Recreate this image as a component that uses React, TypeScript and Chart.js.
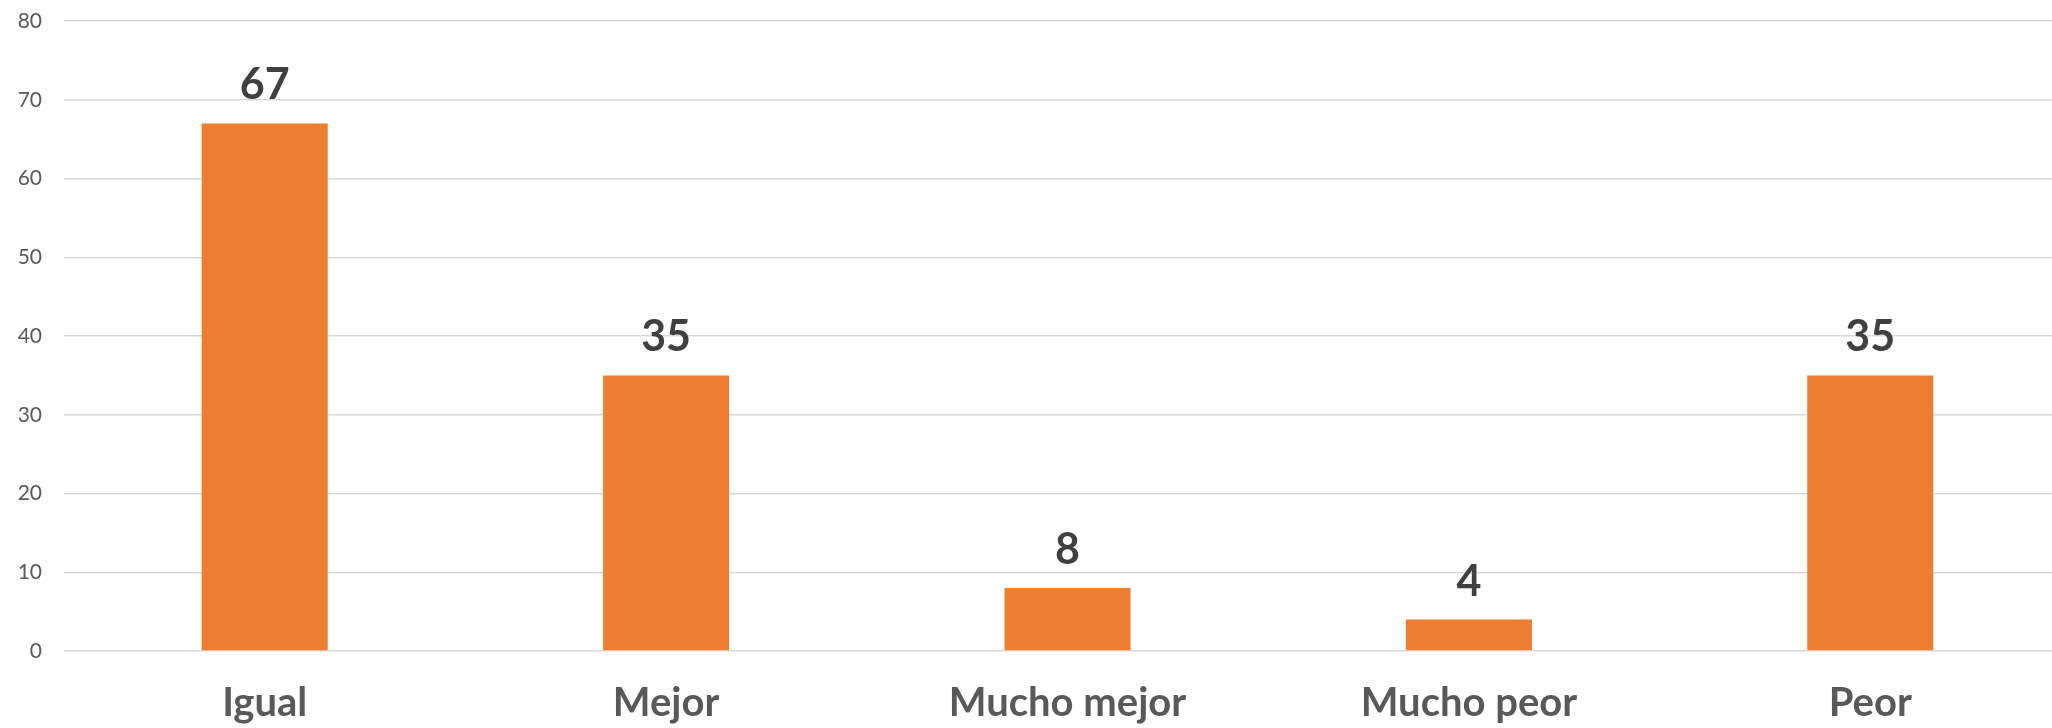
import React, { useEffect, useRef } from "react";
import { Chart, registerables } from "chart.js";

Chart.register(...registerables);

const categories = ["Igual", "Mejor", "Mucho mejor", "Mucho peor", "Peor"];
const values = [67, 35, 8, 4, 35];
const yTicks = [0, 10, 20, 30, 40, 50, 60, 70, 80];

const valueLabelPlugin = {
  id: "valueLabels",
  afterDatasetsDraw(chart: any) {
    const ctx = chart.ctx;
    const meta = chart.getDatasetMeta(0);
    ctx.save();
    ctx.font = "bold 43px Lato";
    ctx.fillStyle = "#404040";
    ctx.textAlign = "center";
    ctx.textBaseline = "alphabetic";
    meta.data.forEach((bar: any, i: number) => {
      ctx.fillText(String(values[i]), bar.x, bar.y - 24);
    });
    ctx.restore();
  },
};

export default function App() {
  const ref = useRef<HTMLCanvasElement>(null);
  useEffect(() => {
    if (!ref.current) return;
    const chart = new Chart(ref.current, {
      type: "bar",
      data: {
        labels: categories,
        datasets: [
          {
            data: values,
            backgroundColor: "#ED7D31",
            borderWidth: 0,
            categoryPercentage: 1,
            barPercentage: 0.314,
          },
        ],
      },
      options: {
        responsive: false,
        animation: false,
        layout: { padding: { top: 21, right: 0, left: 0, bottom: 0 } },
        plugins: { legend: { display: false }, tooltip: { enabled: false } },
        scales: {
          x: {
            grid: { display: false, drawTicks: false },
            border: { display: false },
            ticks: {
              color: "#595959",
              font: { family: "Lato", size: 40, weight: "bold" },
              padding: 28,
              maxRotation: 0,
              autoSkip: false,
            },
            afterFit(scale: any) {
              scale.height = 77;
            },
          },
          y: {
            min: 0,
            max: 80,
            afterBuildTicks(scale: any) {
              scale.ticks = yTicks.map((v) => ({ value: v }));
            },
            grid: { color: "#D9D9D9", lineWidth: 1.5, drawTicks: false },
            border: { display: false },
            ticks: {
              color: "#595959",
              font: { family: "Lato", size: 21 },
              padding: 22,
            },
            afterFit(scale: any) {
              scale.width = 64;
              scale.paddingTop = 0;
              scale.paddingBottom = 0;
            },
          },
        },
      },
      plugins: [valueLabelPlugin],
    });
    return () => chart.destroy();
  }, []);
  return (
    <div
      style={{
        position: "fixed",
        left: 0,
        top: 0,
        width: 2052,
        height: 728,
        overflow: "hidden",
        background: "#ffffff",
      }}
    >
      <canvas ref={ref} width={2071} height={728} style={{ display: "block" }} />
    </div>
  );
}
